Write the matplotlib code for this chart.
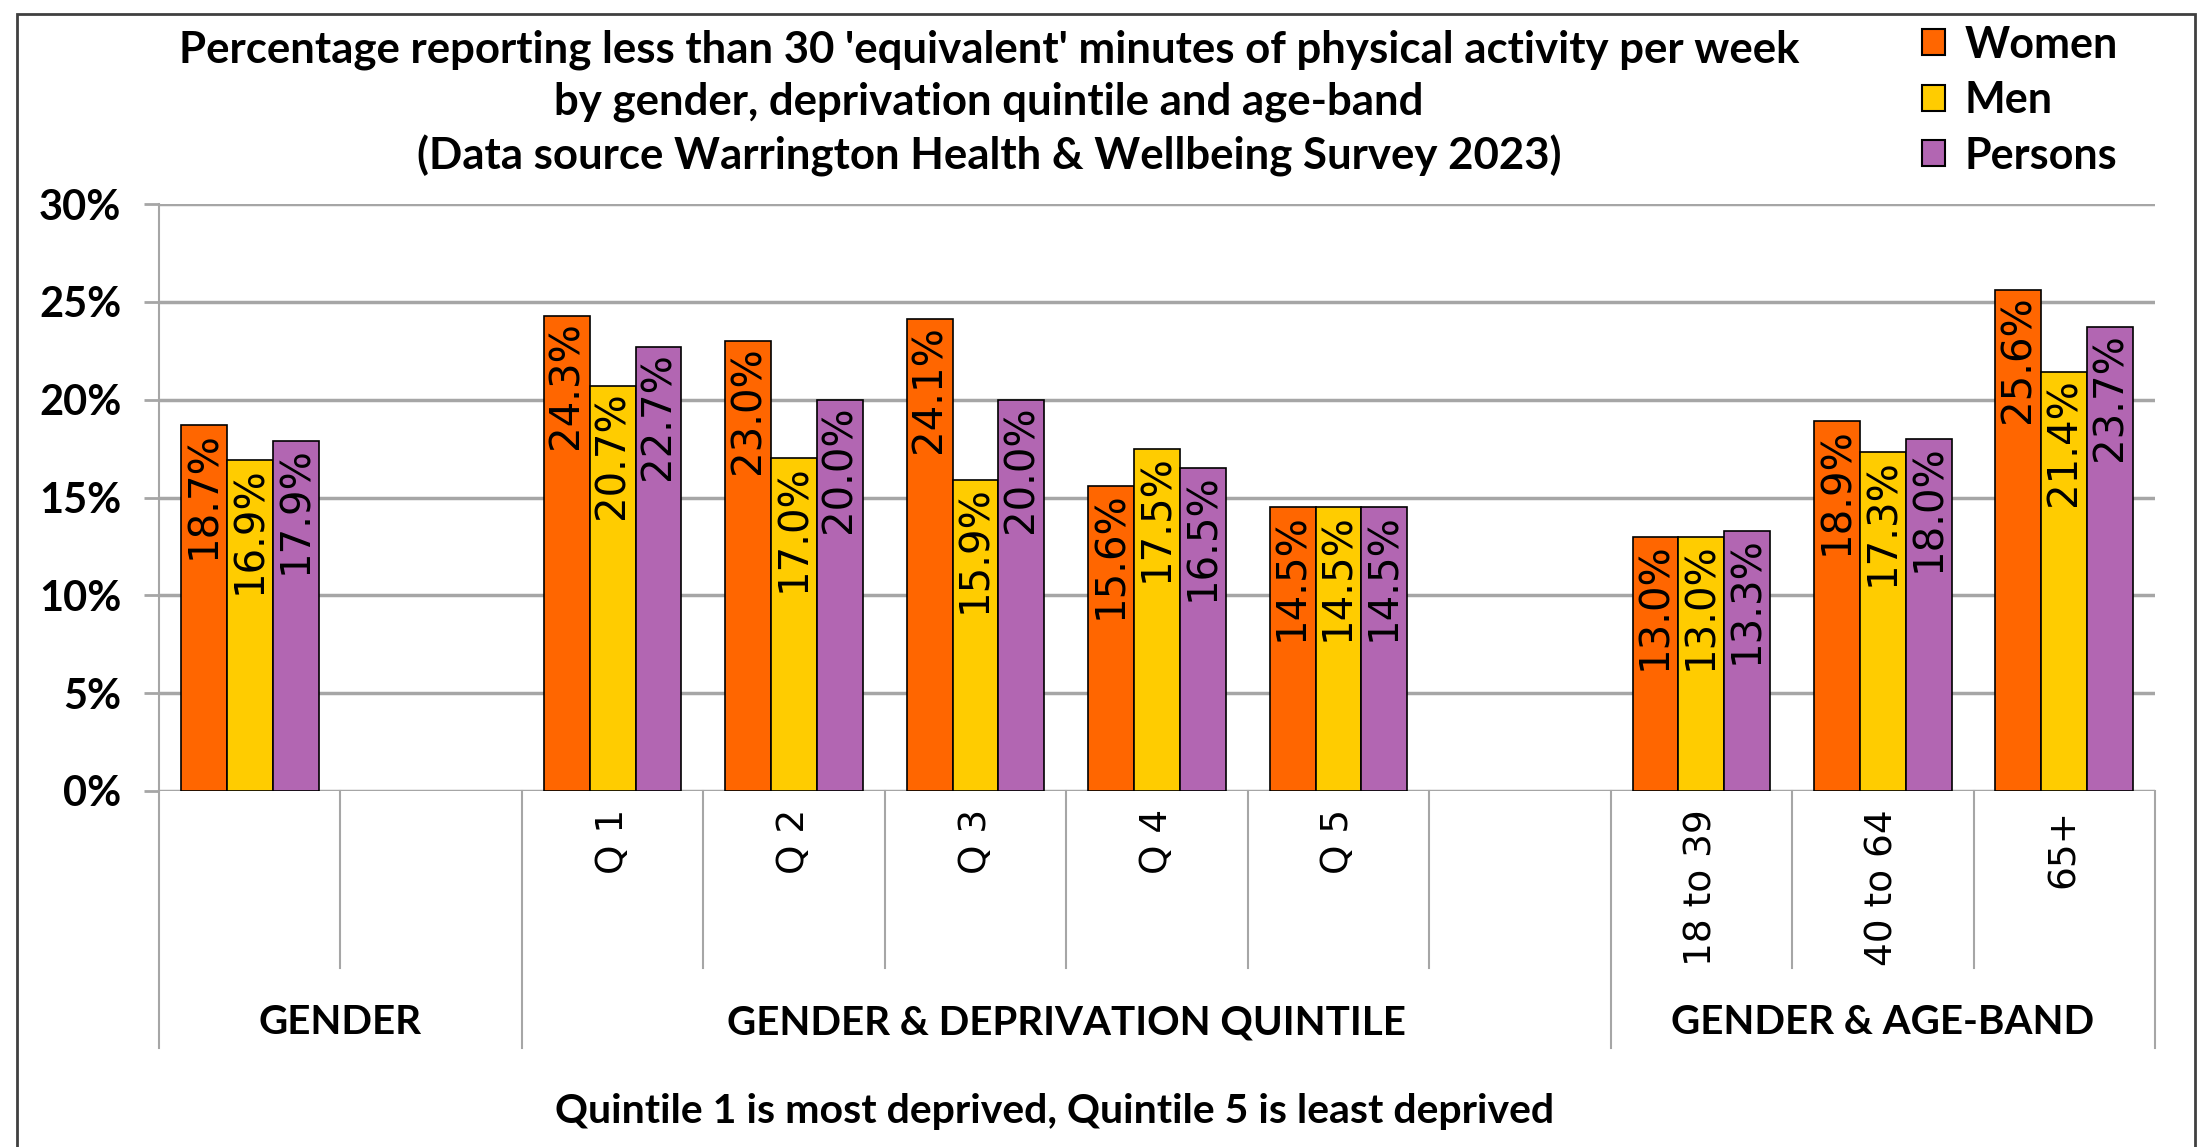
import matplotlib
matplotlib.use("Agg")
import matplotlib.pyplot as plt
import matplotlib.transforms as mtransforms
from matplotlib.patches import Patch, Rectangle
import numpy as np

# datos
categorias = ["", "", "Q 1", "Q 2", "Q 3", "Q 4", "Q 5", "", "18 to 39", "40 to 64", "65+"]
mujeres = [18.7, np.nan, 24.3, 23.0, 24.1, 15.6, 14.5, np.nan, 13.0, 18.9, 25.6]
hombres = [16.9, np.nan, 20.7, 17.0, 15.9, 17.5, 14.5, np.nan, 13.0, 17.3, 21.4]
personas = [17.9, np.nan, 22.7, 20.0, 20.0, 16.5, 14.5, np.nan, 13.3, 18.0, 23.7]
series = ["Women", "Men", "Persons"]
colores = ["#FF6600", "#FFCC00", "#B266B2"]

grupos = ["GENDER", "GENDER & DEPRIVATION QUINTILE", "GENDER & AGE-BAND"]
grupo_inicio = [0, 2, 8]
grupo_fin = [1, 7, 10]

titulo = ["Percentage reporting less than 30 'equivalent' minutes of physical activity per week",
          "by gender, deprivation quintile and age-band",
          "(Data source Warrington Health & Wellbeing Survey 2023)"]
nota = "Quintile 1 is most deprived, Quintile 5 is least deprived"

fuente_b = "Lato"
W, H = 2206, 1147

fig = plt.figure(figsize=(W / 100, H / 100), dpi=100)
ax = fig.add_axes([159 / W, 1 - 791 / H, (2155 - 159) / W, (791 - 204) / H])

x = np.arange(len(categorias))
ancho = 0.253
for i, (vals, col) in enumerate(zip([mujeres, hombres, personas], colores)):
    pos = x + (i - 1) * ancho
    ax.bar(pos, vals, ancho, color=col, edgecolor="black", linewidth=1.2, zorder=3)
    for p, v in zip(pos, vals):
        if np.isnan(v):
            continue
        ax.annotate(f"{v:.1f}%", (p, v), xytext=(0, -4), textcoords="offset points",
                    rotation=90, ha="center", va="top", fontsize=29,
                    family="DejaVu Sans", zorder=4)

ax.set_xlim(-0.5, len(categorias) - 0.5)
ax.set_ylim(0, 30)
ax.set_yticks(np.arange(0, 31, 5))
ax.set_yticklabels([f"{t}%" for t in range(0, 31, 5)], fontsize=30, fontweight="bold", family=fuente_b)
ax.tick_params(axis="y", length=11, width=2, color="#A6A6A6", pad=16)
ax.set_xticks([])
ax.grid(axis="y", color="#A6A6A6", linewidth=2.5, zorder=0)
for s in ["top", "right", "bottom"]:
    ax.spines[s].set_visible(False)
ax.spines["left"].set_color("#A6A6A6")
ax.spines["left"].set_linewidth(1.5)

# ejes de categorias multinivel
trans = mtransforms.blended_transform_factory(ax.transData, ax.transAxes)
limites_grupo = [grupo_inicio[0] - 0.5] + [f + 0.5 for f in grupo_fin]
for b in np.arange(len(categorias) + 1) - 0.5:
    fondo = -0.438 if b in limites_grupo else -0.3015
    ax.plot([b, b], [0, fondo], transform=trans, color="#A6A6A6", lw=1.5, clip_on=False)
for xi, lab in zip(x, categorias):
    ax.text(xi, -0.031, lab, transform=trans, rotation=90, ha="center", va="top",
            fontsize=27, family="DejaVu Sans")
for g, a, b in zip(grupos, grupo_inicio, grupo_fin):
    ax.text((a + b) / 2, -0.395, g, transform=trans, ha="center", va="center",
            fontsize=29, fontweight="bold", family=fuente_b)

# titulo
for linea, yy in zip(titulo, [50, 102, 156]):
    fig.text(989 / W, 1 - yy / H, linea, ha="center", va="center",
             fontsize=31.5, fontweight="bold", family=fuente_b)
fig.text(1055 / W, 1 - 1111 / H, nota, ha="center", va="center",
         fontsize=29.5, fontweight="bold", family=fuente_b)

handles = [Patch(facecolor=c, edgecolor="black", linewidth=1.5) for c in colores]
fig.legend(handles, series, loc="upper left", bbox_to_anchor=(1900 / W, 1 - 3 / H),
           frameon=False, borderpad=0, handlelength=0.55, handleheight=0.55,
           handletextpad=0.45, labelspacing=0.36,
           prop={"family": fuente_b, "weight": "bold", "size": 31})

fig.patches.append(Rectangle((17 / W, -0.1), (2195 - 17) / W, 1.1 - 14 / H,
                             transform=fig.transFigure, fill=False,
                             edgecolor="#404040", linewidth=2))

plt.savefig("out.png", dpi=100)
